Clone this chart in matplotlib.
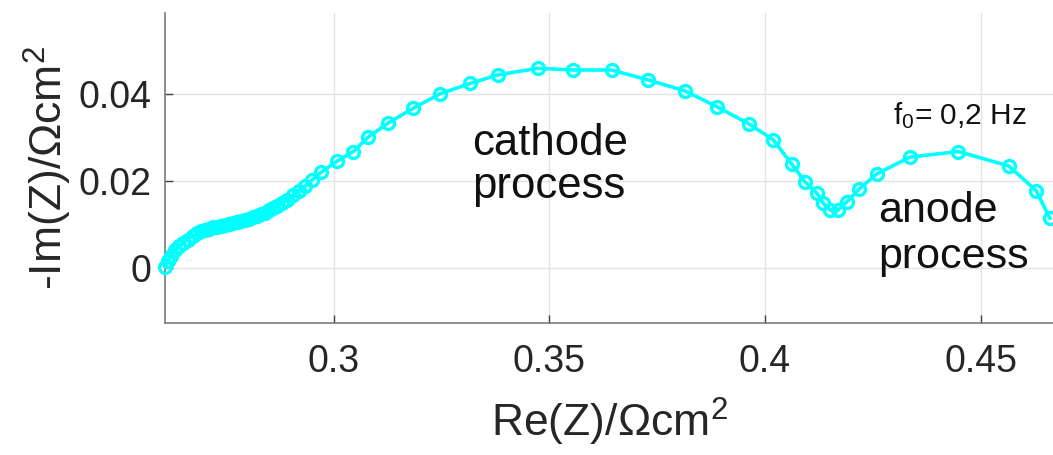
import matplotlib
matplotlib.use("Agg")
import matplotlib.pyplot as plt
from matplotlib.ticker import FuncFormatter

# ---- data ----
re_z = [0.2608, 0.2615, 0.2622, 0.2631, 0.2640, 0.2650, 0.2661, 0.2673, 0.2682, 0.2691,
        0.2701, 0.2710, 0.2719, 0.2729, 0.2738, 0.2747, 0.2756, 0.2766, 0.2775, 0.2784,
        0.2794, 0.2803, 0.2812, 0.2821, 0.2831, 0.2840, 0.2849, 0.2858, 0.2868, 0.2879,
        0.2891, 0.2905, 0.2919, 0.2933, 0.2949, 0.2970, 0.3006, 0.3045, 0.3080, 0.3126,
        0.3184, 0.3246, 0.3316, 0.3381, 0.3474, 0.3554, 0.3644, 0.3729, 0.3814, 0.3889,
        0.3964, 0.4019, 0.4062, 0.4093, 0.4120, 0.4135, 0.4151, 0.4170, 0.4190, 0.4218,
        0.4259, 0.4336, 0.4448, 0.4565, 0.4629, 0.4661]
neg_im_z = [0.0002, 0.0015, 0.0027, 0.0040, 0.0049, 0.0057, 0.0065, 0.0073, 0.0079, 0.0084,
            0.0087, 0.0090, 0.0093, 0.0095, 0.0097, 0.0099, 0.0101, 0.0103, 0.0105, 0.0108,
            0.0110, 0.0112, 0.0116, 0.0119, 0.0123, 0.0127, 0.0132, 0.0137, 0.0142, 0.0149,
            0.0156, 0.0167, 0.0177, 0.0188, 0.0202, 0.0220, 0.0245, 0.0268, 0.0302, 0.0334,
            0.0368, 0.0401, 0.0425, 0.0445, 0.0460, 0.0456, 0.0456, 0.0433, 0.0408, 0.0371,
            0.0331, 0.0295, 0.0239, 0.0198, 0.0172, 0.0149, 0.0133, 0.0133, 0.0152, 0.0181,
            0.0216, 0.0255, 0.0268, 0.0235, 0.0178, 0.0114]

x_ticks = [0.3, 0.35, 0.4, 0.45]
y_ticks = [0, 0.02, 0.04]
x_label = "Re(Z)/\u03a9cm$^{2}$"
y_label = "-Im(Z)/\u03a9cm$^{2}$"
freq_label = "f$_{0}$= 0,2 Hz"
cathode_lines = ["cathode", "process"]
anode_lines = ["anode", "process"]

plt.rcParams["font.family"] = ["Liberation Sans", "DejaVu Sans"]
plt.rcParams["mathtext.fontset"] = "custom"
plt.rcParams["mathtext.rm"] = "Liberation Sans"
plt.rcParams["mathtext.it"] = "Liberation Sans"
plt.rcParams["mathtext.bf"] = "Liberation Sans:bold"

fig = plt.figure(figsize=(10.53, 4.55), dpi=100)
ax = fig.add_axes([165 / 1053, 1 - 322.7 / 455, 1 - 165 / 1053, (322.7 - 13) / 455])

ax.plot(re_z, neg_im_z, "-o", color="#00ffff", lw=2.6, ms=8.6, mfc="none",
        mew=2.4, clip_on=False, zorder=3)

ax.set_xlim(0.26079, 0.46682)
ax.set_ylim(-0.01269, 0.05875)
ax.set_xticks(x_ticks)
ax.set_yticks(y_ticks)
fmt = FuncFormatter(lambda v, p: f"{v:g}")
ax.xaxis.set_major_formatter(fmt)
ax.yaxis.set_major_formatter(fmt)

axis_col = "#404040"
ax.tick_params(axis="both", direction="in", length=6, width=1.0, colors=axis_col,
               labelsize=27, labelcolor="#262626")
ax.tick_params(axis="x", pad=15)
ax.tick_params(axis="y", pad=10)
for s in ["top", "right"]:
    ax.spines[s].set_visible(False)
for s in ["left", "bottom"]:
    ax.spines[s].set_color("#7a7a7a")
    ax.spines[s].set_linewidth(1.2)

ax.grid(True, color="#e3e3e3", lw=1.0, zorder=0)
ax.set_axisbelow(True)

ax.set_xlabel(x_label, fontsize=32, color="#262626")
ax.set_ylabel(y_label, fontsize=32, color="#262626")
ax.xaxis.set_label_coords(0.5, -0.235)
ax.yaxis.set_label_coords(-0.1025, 0.5)

ax.text(0.3320, 0.0260, cathode_lines[0], fontsize=31.5, va="baseline", ha="left", color="#111111")
ax.text(0.3320, 0.0161, cathode_lines[1], fontsize=31.5, va="baseline", ha="left", color="#111111")
ax.text(0.4262, 0.0106, anode_lines[0], fontsize=31, va="baseline", ha="left", color="#111111")
ax.text(0.4262, 0.0000, anode_lines[1], fontsize=31, va="baseline", ha="left", color="#111111")
ax.text(0.4297, 0.0331, freq_label, fontsize=21.5, va="baseline", ha="left", color="#111111")

fig.savefig("out.png", dpi=100)
